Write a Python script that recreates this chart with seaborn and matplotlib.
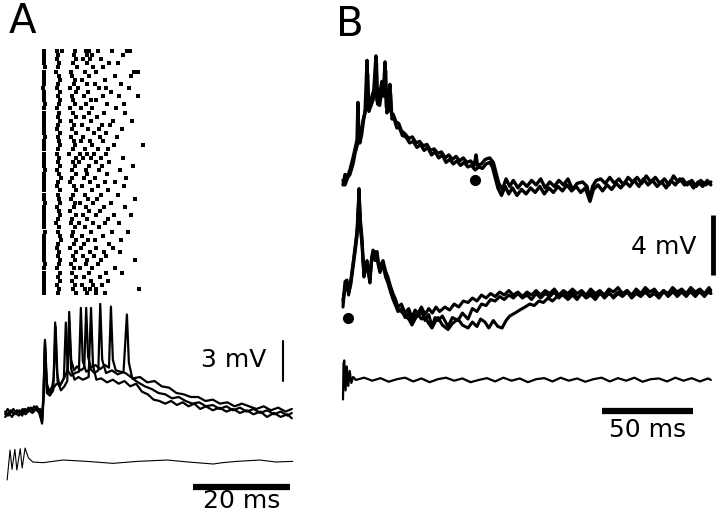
import numpy as np
import pandas as pd
import matplotlib
matplotlib.use("Agg")
import matplotlib.pyplot as plt
import seaborn as sns

# ------------------------------------------------------------
# Data (time in ms, voltage in mV)
# ------------------------------------------------------------

# Panel A raster: spike times (ms) for each trial, top to bottom
raster_trials = [
    [0.2, 2.9, 4.0, 6.6, 8.8, 9.4, 11.4, 14.3, 17.4, 18.0],
    [0.1, 3.1, 6.4, 9.0, 10.2, 16.5],
    [0.3, 2.8, 6.9, 8.2, 9.6, 12.0],
    [0.2, 3.3, 6.2, 9.1, 13.6, 15.4],
    [0.4, 3.0, 7.0, 10.4, 12.3],
    [0.2, 2.7, 5.8, 8.6, 11.0, 18.8, 19.6],
    [0.1, 3.2, 6.0, 9.5, 14.8, 18.2],
    [0.3, 3.5, 6.6, 8.0, 12.8],
    [0.2, 3.1, 6.3, 9.0, 10.8, 16.0],
    [0.0, 2.9, 5.6, 7.3, 11.6, 13.0, 17.8],
    [0.3, 3.4, 6.8, 9.2, 14.0],
    [0.2, 3.0, 5.9, 8.4, 12.4, 15.6, 19.5],
    [0.1, 3.6, 6.1, 9.8, 11.0],
    [0.4, 3.2, 6.5, 8.8, 13.2, 16.8],
    [0.2, 2.8, 5.5, 7.8, 10.1, 15.0],
    [0.3, 3.3, 6.2, 9.4, 12.6, 17.0],
    [0.1, 3.0, 6.7, 8.5, 11.2],
    [0.2, 3.5, 5.8, 9.9, 14.4, 18.4],
    [0.3, 3.1, 6.4, 8.0, 12.1, 13.8],
    [0.2, 2.9, 6.0, 9.3, 11.5, 16.2],
    [0.1, 3.4, 6.9, 10.6, 13.0],
    [0.4, 3.0, 5.7, 8.3, 11.8, 15.2],
    [0.2, 3.2, 6.3, 7.9, 9.6, 12.4],
    [0.3, 3.6, 6.6, 10.0, 14.6, 20.6],
    [0.1, 3.1, 6.1, 8.7, 11.3, 13.4],
    [0.2, 2.8, 5.4, 7.6, 9.0, 10.5, 12.9],
    [0.3, 3.3, 6.8, 8.2, 9.8, 11.9, 16.4],
    [0.2, 3.0, 6.2, 7.4, 10.9, 13.7],
    [0.1, 3.5, 6.5, 9.4, 12.2, 18.6],
    [0.4, 2.9, 5.9, 8.9, 11.6, 15.8],
    [0.2, 3.2, 6.7, 9.1, 13.1],
    [0.3, 3.7, 6.0, 8.4, 10.7, 17.2],
    [0.1, 3.1, 5.6, 9.7, 12.7, 14.9],
    [0.2, 2.8, 6.4, 8.1, 11.4, 16.6],
    [0.3, 3.4, 6.9, 10.2, 13.5],
    [0.2, 3.0, 6.1, 8.6, 12.0, 15.4],
    [0.1, 3.3, 5.8, 9.2, 11.1, 19.0],
    [0.4, 3.6, 6.6, 7.7, 10.4, 14.1],
    [0.2, 2.9, 6.3, 8.8, 12.5, 16.9],
    [0.3, 3.2, 5.5, 9.5, 11.7],
    [0.2, 3.5, 6.8, 8.3, 10.9, 14.7, 18.1],
    [0.1, 3.1, 6.0, 9.0, 13.3],
    [0.3, 2.7, 5.7, 7.5, 10.3, 12.8, 15.6],
    [0.2, 3.3, 6.5, 8.7, 11.5],
    [0.4, 3.0, 6.2, 9.9, 14.2, 17.6],
    [0.2, 3.4, 5.9, 8.0, 12.3],
    [0.1, 3.8, 6.7, 9.3, 10.8, 16.1],
    [0.3, 3.1, 6.4, 8.5, 13.6],
    [0.2, 2.9, 5.6, 7.8, 11.0, 14.5],
    [0.3, 3.3, 6.9, 9.6, 12.6, 15.9],
    [0.2, 3.0, 6.1, 8.2, 10.6, 13.0],
    [0.1, 3.6, 6.6, 9.1, 12.0, 18.9],
    [0.4, 3.2, 5.8, 8.9, 11.4],
    [0.2, 2.8, 6.3, 7.6, 10.1, 14.9],
    [0.3, 3.4, 6.0, 9.4, 12.9, 16.3],
    [0.2, 3.1, 6.8, 8.4, 11.8],
    [0.1, 3.5, 5.9, 9.8, 13.4],
    [0.3, 2.9, 6.5, 8.1, 10.4, 12.2],
    [0.2, 3.3, 6.2, 8.6, 9.7, 11.0, 19.8],
    [0.3, 3.0, 6.7, 9.0, 10.9, 12.7],
]

# Panel A intracellular sweeps (three overlaid)
a1_t = [-7.8, -7.2, -6.6, -6.0, -5.4, -4.8, -4.2, -3.6, -3.0, -2.4, -1.8, -1.2, -0.6, -0.2,
        0.1, 0.4, 0.8, 1.3, 1.9, 2.2, 2.5, 2.9, 3.4, 4.0, 4.6, 5.1, 5.4, 5.8, 6.4, 7.0, 7.8,
        8.5, 8.9, 9.3, 9.9, 10.8, 11.8, 12.8, 13.6, 14.0, 14.4, 15.0, 16.0, 17.0, 18.5, 20.0,
        21.5, 23.0, 24.5, 26.0, 27.5, 29.0, 30.5, 32.0, 33.5, 35.0, 36.5, 38.0, 39.5, 41.0,
        42.5, 44.0, 45.5, 47.0, 48.5, 50.0, 51.3]
a1_v = [0.1, -0.2, 0.2, -0.1, 0.2, 0.0, 0.3, 0.1, 0.4, 0.2, 0.5, 0.2, 0.3, -0.5,
        1.5, 5.5, 2.2, 1.6, 2.0, 2.6, 6.8, 3.0, 2.0, 2.4, 2.8, 3.3, 7.6, 4.0, 3.2, 3.5, 3.2,
        3.4, 7.9, 4.2, 3.4, 3.6, 3.3, 3.6, 3.4, 8.0, 4.0, 3.2, 3.1, 3.0, 2.6, 2.7,
        2.3, 2.4, 2.0, 1.9, 1.5, 1.4, 1.2, 1.2, 0.9, 1.0, 0.7, 0.8, 0.5, 0.7,
        0.5, 0.3, 0.5, 0.2, 0.4, 0.1, 0.3]

a2_t = [-7.8, -7.1, -6.4, -5.7, -5.0, -4.3, -3.6, -2.9, -2.2, -1.5, -0.8, -0.2,
        0.1, 0.4, 0.8, 1.4, 2.0, 2.8, 3.6, 4.3, 4.7, 5.1, 5.8, 6.6, 7.4, 7.8, 8.2, 8.9, 9.8,
        10.6, 11.4, 11.8, 12.2, 13.0, 14.2, 15.4, 16.6, 17.3, 17.7, 18.4, 19.6, 21.0, 22.4,
        23.8, 25.2, 26.6, 28.0, 29.4, 30.8, 32.2, 33.6, 35.0, 36.4, 37.8, 39.2, 40.6, 42.0,
        43.4, 44.8, 46.2, 47.6, 49.0, 50.4, 51.3]
a2_v = [-0.3, 0.0, -0.3, 0.1, -0.2, 0.1, -0.1, 0.2, 0.0, 0.3, 0.0, -0.7,
        1.2, 5.3, 1.8, 1.5, 1.8, 2.2, 2.1, 2.6, 6.8, 3.2, 2.8, 3.0, 3.1, 7.9, 3.9, 3.1, 3.3,
        3.0, 3.2, 8.2, 4.0, 3.0, 3.2, 2.9, 3.1, 7.4, 3.8, 2.6, 2.3, 2.0, 1.8,
        1.5, 1.4, 1.1, 1.2, 0.9, 0.7, 0.8, 0.5, 0.6, 0.3, 0.5, 0.2, 0.4, 0.1,
        0.3, 0.0, 0.2, -0.1, 0.1, -0.2, 0.0]

a3_t = [-7.8, -7.3, -6.7, -6.1, -5.5, -4.9, -4.3, -3.7, -3.1, -2.5, -1.9, -1.3, -0.7, -0.2,
        0.1, 0.4, 0.8, 1.4, 2.1, 2.6, 3.0, 3.7, 4.4, 5.0, 5.4, 5.8, 6.5, 7.3, 8.2, 9.4, 9.9,
        10.3, 11.0, 12.0, 13.2, 14.4, 15.6, 16.8, 18.0, 19.2, 20.4, 21.6, 22.8, 24.0, 25.2,
        26.4, 27.6, 28.8, 30.0, 31.2, 32.4, 33.6, 35.0, 36.4, 37.8, 39.2, 40.6, 42.0, 43.4,
        44.8, 46.2, 47.6, 49.0, 50.4, 51.3]
a3_v = [-0.1, 0.3, 0.0, 0.3, -0.1, 0.2, -0.2, 0.3, 0.1, 0.4, 0.1, 0.5, 0.1, -0.8,
        1.0, 5.0, 1.5, 1.3, 1.7, 6.5, 2.4, 1.7, 2.0, 2.4, 6.9, 3.3, 2.5, 2.7, 2.5, 2.7, 7.9,
        3.6, 2.5, 2.6, 2.3, 2.5, 2.2, 2.4, 2.0, 2.2, 1.6, 1.4, 1.0, 0.9, 0.7,
        0.9, 0.6, 0.8, 0.5, 0.7, 0.3, 0.5, 0.2, 0.4, 0.1, 0.3, 0.0, 0.2, -0.1,
        0.1, -0.3, 0.0, -0.3, -0.1, -0.4]

# Panel A stimulus / field trace
stim_t = [-7.4, -6.8, -6.4, -5.8, -5.4, -4.7, -4.3, -3.7, -3.0, -2.1, 0.0, 4.1, 9.0,
          14.4, 19.5, 25.6, 30.0, 35.1, 37.0, 40.0, 44.7, 48.0, 51.5]
stim_v = [-1.35, 0.90, -0.55, 0.95, -0.60, 1.00, -0.45, 1.05, 0.30, 0.0, -0.05, 0.15, 0.05,
          -0.10, 0.05, 0.15, 0.0, -0.15, -0.05, 0.05, 0.15, 0.0, 0.05]

# Panel B, top record (two overlaid sweeps)
bt1_t = [-1.1, 0.0, 1.5, 2.7, 4.4, 5.5, 6.6, 7.1, 7.7, 8.5, 9.9, 11.0, 12.1, 12.8, 13.8,
         14.8, 15.8, 17.0, 17.6, 18.6, 20.3, 21.2, 22.0, 22.7, 23.6, 24.7, 25.4, 26.5, 28.0,
         29.5, 31.0, 33.0, 35.0, 37.0, 39.0, 41.0, 43.0, 45.0, 47.0, 49.0, 51.0, 53.0, 55.0,
         57.0, 59.0, 61.0, 63.0, 65.0, 67.0, 69.0, 71.0, 72.0, 72.8, 75.0, 77.0, 79.5, 81.5,
         83.0, 84.5, 86.5, 88.5, 90.5, 92.5, 95.0, 97.5, 100.0, 102.5, 105.0, 107.5, 110.0,
         112.5, 115.0, 117.5, 120.0, 122.5, 125.0, 127.5, 130.5, 133.0, 134.6, 136.0, 138.0,
         140.5, 143.0, 145.5, 148.0, 150.5, 153.0, 155.5, 158.0, 160.5, 163.0, 165.5, 168.0,
         170.5, 173.0, 175.5, 178.0, 180.5, 183.0, 185.5, 188.0, 190.5, 193.0, 195.5, 198.0,
         201.0]
bt1_v = [-0.2, 0.5, 0.4, 0.8, 1.6, 2.2, 2.8, 5.3, 2.6, 3.0, 4.1, 4.6, 8.1, 5.2, 5.4,
         5.7, 6.1, 8.4, 5.4, 5.6, 6.7, 6.2, 8.0, 5.0, 5.3, 6.5, 4.6, 4.5, 4.0,
         3.9, 3.4, 3.2, 2.9, 3.0, 2.6, 2.7, 2.4, 2.5, 2.1, 2.2, 1.9, 2.0, 1.6,
         1.8, 1.5, 1.7, 1.4, 1.6, 1.3, 1.4, 1.1, 1.8, 1.1, 1.2, 1.5, 1.6, 1.3,
         0.6, -0.1, -0.5, 0.2, -0.3, 0.1, -0.4, 0.0, -0.3, 0.1, -0.2, 0.2, -0.4,
         0.0, -0.3, 0.1, -0.2, 0.2, -0.5, -0.1, 0.0, -0.3, -1.2, -0.3, 0.1,
         0.2, -0.1, 0.3, -0.1, 0.2, -0.2, 0.3, 0.0, 0.3, -0.1, 0.4, 0.0,
         0.3, -0.1, 0.2, -0.2, 0.4, 0.0, 0.2, -0.2, 0.1, -0.3, 0.1, -0.2,
         0.0]

bt2_t = [-1.1, 0.0, 1.5, 2.7, 4.4, 5.5, 6.6, 7.4, 8.2, 9.2, 10.4, 11.5, 12.4, 13.1, 14.0,
         15.2, 16.2, 17.3, 17.9, 19.0, 20.6, 21.5, 22.3, 23.0, 24.0, 25.0, 25.8, 27.0, 28.5,
         30.0, 31.5, 33.5, 35.5, 37.5, 39.5, 41.5, 43.5, 45.5, 47.5, 49.5, 51.5, 53.5, 55.5,
         57.5, 59.5, 61.5, 63.5, 65.5, 67.5, 69.5, 71.5, 73.5, 75.5, 77.5, 79.5, 81.0, 82.5,
         84.0, 86.0, 88.0, 90.0, 92.0, 94.5, 97.0, 99.5, 102.0, 104.5, 107.0, 109.5, 112.0,
         114.5, 117.0, 119.5, 122.0, 124.5, 127.0, 129.5, 132.0, 134.6, 136.5, 139.0, 141.5,
         144.0, 146.5, 149.0, 151.5, 154.0, 156.5, 159.0, 161.5, 164.0, 166.5, 169.0, 171.5,
         174.0, 176.5, 179.0, 181.5, 184.0, 186.5, 189.0, 191.5, 194.0, 196.5, 199.0, 201.0]
bt2_v = [0.1, -0.2, 0.3, 0.5, 1.2, 1.9, 2.4, 3.0, 2.6, 3.2, 4.3, 5.0, 7.2, 4.7, 5.0,
         5.4, 5.8, 7.9, 5.2, 5.1, 6.3, 5.7, 7.4, 4.6, 4.8, 5.9, 4.2, 4.2, 3.6,
         3.6, 3.1, 3.0, 2.6, 2.7, 2.3, 2.5, 2.1, 2.3, 1.8, 2.0, 1.6, 1.8, 1.3,
         1.5, 1.2, 1.4, 1.1, 1.3, 1.0, 1.1, 0.8, 1.0, 0.9, 1.2, 1.3, 1.0, 0.3,
         -0.4, -0.9, -0.3, -0.8, -0.4, -0.9, -0.5, -0.8, -0.4, -0.7, -0.3, -0.8, -0.4,
         -0.7, -0.3, -0.6, -0.2, -0.6, -0.3, -0.7, -0.4, -1.3, -0.5, -0.2, -0.6,
         -0.2, -0.5, -0.1, -0.4, 0.0, -0.3, 0.1, -0.3, 0.2, -0.2, 0.1, -0.3,
         0.0, -0.4, 0.1, -0.2, 0.2, -0.2, 0.0, -0.4, 0.0, -0.3, 0.1, -0.2]

# Panel B, middle record (three overlaid sweeps)
bm_t_early = [-1.1, 0.0, 1.1, 2.0, 3.2, 4.4, 5.5, 6.6, 7.7, 8.5, 9.3, 10.4, 11.2, 12.1, 13.0,
              13.7, 14.6, 15.4, 16.5, 17.6, 18.4, 19.2, 20.1, 20.9, 22.3, 23.6, 25.0, 26.4,
              27.8, 29.1]
bm1_v_early = [-0.5, 0.9, 1.0, 0.3, 1.0, 2.1, 3.2, 4.3, 7.1, 5.0, 3.9, 1.5, 2.0, 2.1, 1.6,
               1.0, 2.5, 3.0, 2.6, 2.9, 2.2, 1.9, 2.1, 2.3, 1.6, 1.2, 0.6, 0.1, -0.3, -0.8]
bm2_v_early = [-0.8, 0.6, 0.8, 0.1, 0.7, 1.8, 2.8, 3.9, 6.4, 4.4, 3.4, 1.2, 1.7, 1.9, 1.3,
               0.8, 2.2, 2.7, 2.3, 2.6, 1.9, 1.5, 1.8, 2.0, 1.2, 0.8, 0.2, -0.3, -0.7, -1.1]
bm3_v_early = [-0.3, 0.4, 0.6, 0.0, 0.9, 2.0, 3.0, 4.1, 6.8, 4.7, 3.6, 1.3, 1.9, 2.3, 1.5,
               1.1, 2.4, 2.8, 2.9, 2.5, 2.0, 1.7, 2.0, 2.1, 1.4, 1.0, 0.4, -0.1, -0.6, -1.0]

bm1_t_late = [31.0, 33.0, 35.0, 36.8, 38.5, 40.1, 42.0, 44.0, 46.0, 48.0, 50.0, 52.0, 54.9,
              57.5, 60.0, 62.5, 65.0, 67.6, 70.0, 72.5, 75.0, 77.5, 80.0, 82.5, 85.0, 87.5,
              90.0, 92.5, 95.0, 97.5, 100.0, 102.5, 105.0, 107.5, 110.0, 112.5, 115.0, 117.5,
              120.0, 122.5, 125.0, 127.5, 130.0, 132.5, 135.0, 137.5, 140.0, 142.5, 145.0,
              147.5, 150.0, 152.5, 155.0, 157.5, 160.0, 162.5, 165.0, 167.5, 170.0, 172.5,
              175.0, 177.5, 180.0, 182.5, 185.0, 187.5, 190.0, 192.5, 195.0, 197.5, 200.0, 201.0]
bm1_v_late = [-0.6, -1.2, -0.9, -1.5, -1.0, -1.2, -0.8, -1.3, -0.9, -1.2, -0.8, -1.1, -0.8,
              -1.0, -0.6, -0.8, -0.4, -0.5, -0.2, -0.4, 0.0, -0.2, 0.1, -0.1, 0.2, 0.0,
              0.3, 0.0, 0.2, -0.1, 0.2, 0.0, 0.3, 0.0, 0.3, 0.1, 0.4, 0.0,
              0.3, 0.1, 0.4, 0.1, 0.3, 0.0, 0.4, 0.1, 0.3, 0.0, 0.4,
              0.2, 0.5, 0.1, 0.3, 0.0, 0.4, 0.1, 0.5, 0.2, 0.4, 0.0,
              0.3, 0.1, 0.5, 0.2, 0.4, 0.1, 0.5, 0.2, 0.4, 0.1, 0.5, 0.3]

bm2_t_late = [31.0, 33.0, 35.0, 36.8, 38.5, 40.1, 42.0, 44.0, 46.0, 47.8, 49.5, 51.1, 53.5,
              56.6, 59.0, 62.1, 64.5, 67.6, 70.0, 72.5, 75.0, 77.5, 80.0, 82.5, 85.0, 87.5,
              90.0, 92.5, 95.0, 97.5, 100.0, 102.5, 105.0, 107.5, 110.0, 112.5, 115.0, 117.5,
              120.0, 122.5, 125.0, 127.5, 130.0, 132.5, 135.0, 137.5, 140.0, 142.5, 145.0,
              147.5, 150.0, 152.5, 155.0, 157.5, 160.0, 162.5, 165.0, 167.5, 170.0, 172.5,
              175.0, 177.5, 180.0, 182.5, 185.0, 187.5, 190.0, 192.5, 195.0, 197.5, 200.0, 201.0]
bm2_v_late = [-0.9, -1.5, -1.2, -1.9, -1.3, -1.4, -1.1, -1.7, -1.3, -2.1, -1.5, -1.7, -1.4,
              -2.1, -1.5, -1.7, -1.2, -1.6, -0.9, -1.1, -0.6, -0.7, -0.3, -0.4, -0.1, -0.3,
              0.0, -0.2, 0.1, -0.2, 0.0, -0.3, 0.1, -0.2, 0.1, -0.1, 0.2, -0.2,
              0.1, -0.1, 0.2, -0.2, 0.1, -0.1, 0.2, -0.1, 0.2, -0.2, 0.1,
              -0.1, 0.2, 0.0, 0.3, -0.1, 0.2, 0.0, 0.3, -0.1, 0.2, 0.0,
              0.3, -0.1, 0.2, 0.0, 0.3, 0.0, 0.2, -0.1, 0.3, 0.0, 0.2, 0.1]

bm3_t_late = [31.0, 33.0, 35.0, 36.8, 38.5, 40.1, 42.0, 44.0, 46.0, 47.8, 49.5, 51.1, 53.5,
              56.6, 59.0, 62.1, 64.5, 67.6, 70.0, 72.5, 74.5, 76.9, 79.0, 81.5, 84.0, 86.3,
              88.5, 90.5, 93.4, 96.0, 98.9, 101.5, 104.0, 106.5, 109.0, 111.5, 114.0, 116.5,
              119.8, 122.5, 125.0, 127.5, 130.0, 132.5, 135.0, 137.5, 140.0, 142.5, 145.0,
              147.5, 150.0, 152.5, 155.0, 157.5, 160.0, 162.5, 165.0, 167.5, 170.0, 172.5,
              175.0, 177.5, 180.0, 182.5, 185.0, 187.5, 190.0, 192.5, 195.0, 197.5, 200.0, 201.0]
bm3_v_late = [-1.1, -1.4, -1.6, -2.0, -1.6, -1.3, -1.6, -1.5, -1.9, -2.2, -1.8, -1.5, -2.0,
              -2.3, -1.9, -1.6, -2.0, -2.2, -1.8, -2.1, -1.6, -1.8, -2.2, -1.7, -2.1, -2.2,
              -1.7, -1.4, -1.2, -1.0, -0.8, -0.6, -0.7, -0.4, -0.5, -0.2, -0.4, -0.1,
              0.0, -0.3, 0.0, -0.3, 0.1, -0.2, 0.0, -0.3, 0.1, -0.1, 0.2,
              -0.2, 0.1, -0.1, 0.2, -0.2, 0.1, -0.1, 0.2, -0.1, 0.1, -0.2,
              0.2, 0.0, 0.3, -0.1, 0.2, -0.1, 0.3, 0.0, 0.2, -0.1, 0.3, 0.1]

# Panel B, bottom record (single sweep)
bb_t = [-1.1, -0.8, -0.4, 0.3, 1.0, 1.8, 2.6, 3.5, 4.5, 6.0, 10.5, 15.0, 19.5, 24.0, 28.5,
        33.0, 37.5, 42.0, 46.5, 51.0, 55.5, 60.0, 64.5, 69.0, 73.5, 78.0, 82.5, 87.0, 91.5,
        96.0, 100.5, 105.0, 109.5, 114.0, 118.5, 123.0, 127.5, 132.0, 136.5, 141.0, 145.5,
        150.0, 154.5, 159.0, 163.5, 168.0, 172.5, 177.0, 181.5, 186.0, 190.5, 195.0, 199.5,
        201.0]
bb_v = [-1.3, 1.1, 1.3, -0.7, 0.9, -0.4, 0.6, -0.2, 0.2, 0.0, 0.15, -0.05, 0.12, -0.12, 0.05,
        0.15, -0.1, 0.1, -0.15, 0.05, 0.15, -0.05, 0.1, -0.15, 0.0, 0.12, -0.1, 0.15, -0.05,
        0.1, -0.15, 0.05, 0.12, -0.1, 0.15, -0.05, 0.1, -0.12, 0.05, 0.15, -0.1,
        0.12, -0.05, 0.15, -0.12, 0.05, 0.1, -0.1, 0.15, -0.05, 0.12, -0.1, 0.1,
        0.0]

# markers (filled dots) on panel B: (time ms, mV rel. to baseline)
dot_top = (71.4, 0.1)
dot_mid = (1.6, -1.5)

# scale bars
a_mv_bar = 3
a_ms_bar = 20
b_mv_bar = 4
b_ms_bar = 50

# ------------------------------------------------------------
# Figure
# ------------------------------------------------------------
sns.set_theme(style="white")
plt.rcParams["font.family"] = ["DejaVu Sans"]
plt.rcParams["text.color"] = "black"

W, H = 720, 520
fig = plt.figure(figsize=(7.2, 5.2), dpi=100)


def px_axes(x0, y0, x1, y1):
    ax = fig.add_axes([x0 / W, 1 - y1 / H, (x1 - x0) / W, (y1 - y0) / H])
    ax.set_axis_off()
    ax.patch.set_alpha(0)
    return ax


def trace(ax, t, v, offset, lw):
    sns.lineplot(x=t, y=np.asarray(v) + offset, ax=ax, color="black", lw=lw,
                 estimator=None, sort=False, legend=False)


# ---- Panel A raster
ax_r = px_axes(0, 45, 310, 298)
rows = pd.DataFrame(
    [(t, i) for i, trial in enumerate(raster_trials) for t in trial],
    columns=["time", "trial"])
sns.scatterplot(data=rows, x="time", y="trial", ax=ax_r, color="black",
                marker="s", s=9, linewidth=0, legend=False)
ax_r.set_xlim(-8.87, 55.05)
ax_r.set_ylim(60.2, -1.46)
ax_r.set_axis_off()

# ---- Panel A traces
ax_a = px_axes(0, 295, 310, 520)
a_base, stim_base = 8.05, 4.36
for t, v in [(a1_t, a1_v), (a2_t, a2_v), (a3_t, a3_v)]:
    trace(ax_a, t, v, a_base, 1.6)
trace(ax_a, stim_t, stim_v, stim_base, 0.8)
ax_a.plot([49.5, 49.5], [a_base + 2.41, a_base + 2.41 + a_mv_bar], color="black", lw=1.5)
ax_a.text(46.0, a_base + 3.95, f"{a_mv_bar} mV", ha="right", va="center", fontsize=18,
          color="black")
ax_a.plot([30.9, 30.9 + a_ms_bar], [a_base - 5.56] * 2, color="black", lw=4.5,
          solid_capstyle="butt")
ax_a.text(30.9 + a_ms_bar / 2, a_base - 6.6, f"{a_ms_bar} ms", ha="center", va="center",
          fontsize=18, color="black")
ax_a.set_xlim(-8.87, 55.05)
ax_a.set_ylim(0, 16.92)
ax_a.set_axis_off()

# ---- Panel B traces
ax_b = px_axes(330, 40, 720, 450)
top_base, mid_base, bot_base = 17.87, 10.33, 4.67
trace(ax_b, bt1_t, bt1_v, top_base, 2.4)
trace(ax_b, bt2_t, bt2_v, top_base, 2.4)
for v_early, t_late, v_late in [(bm1_v_early, bm1_t_late, bm1_v_late),
                                (bm2_v_early, bm2_t_late, bm2_v_late),
                                (bm3_v_early, bm3_t_late, bm3_v_late)]:
    trace(ax_b, bm_t_early + t_late, v_early + v_late, mid_base, 2.2)
trace(ax_b, bb_t, bb_v, bot_base, 1.6)
ax_b.plot(dot_top[0], dot_top[1] + top_base, "o", color="black", ms=7)
ax_b.plot(dot_mid[0], dot_mid[1] + mid_base, "o", color="black", ms=7)
ax_b.plot([202.2, 202.2], [mid_base + 1.33, mid_base + 1.33 + b_mv_bar], color="black",
          lw=3.5, solid_capstyle="butt")
ax_b.text(193.4, mid_base + 3.2, f"{b_mv_bar} mV", ha="right", va="center", fontsize=18,
          color="black")
ax_b.plot([141.2, 141.2 + b_ms_bar], [bot_base - 2.07] * 2, color="black", lw=4.5,
          solid_capstyle="butt")
ax_b.text(141.2 + b_ms_bar / 2, bot_base - 3.35, f"{b_ms_bar} ms", ha="center",
          va="center", fontsize=18, color="black")
ax_b.set_xlim(-8.24, 206.04)
ax_b.set_ylim(0, 27.33)
ax_b.set_axis_off()

# panel letters
fig.text(9 / W, 1 - 33 / H, "A", fontsize=29, va="baseline", ha="left", color="black")
fig.text(336 / W, 1 - 36 / H, "B", fontsize=29, va="baseline", ha="left", color="black")

fig.savefig("out.png", dpi=100, facecolor="white")
